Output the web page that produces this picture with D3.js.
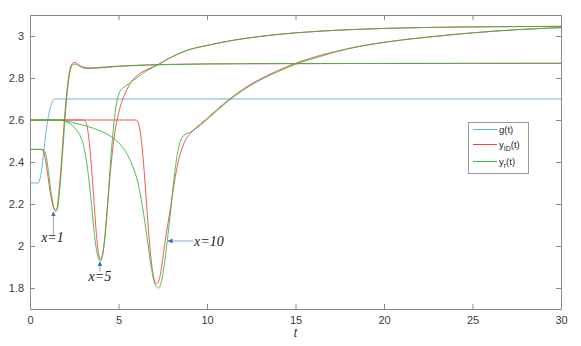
<!DOCTYPE html>
<html>
<head>
<meta charset="utf-8">
<script src="https://cdn.jsdelivr.net/npm/d3@7"></script>
<style>
  body { margin: 0; background: #fff; }
  svg { display: block; }
</style>
</head>
<body>
<svg id="chart"></svg>
<script>
// Data
const gT = [0, 0.45, 0.55, 0.65, 0.78, 0.9, 1.02, 1.15, 1.28, 1.4, 1.6, 30];
const gY = [2.3, 2.3, 2.315, 2.36, 2.45, 2.54, 2.61, 2.66, 2.69, 2.70, 2.70, 2.70];

// x=1
const id1T = [0, 0.6, 0.72, 0.85, 1.0, 1.15, 1.3, 1.42, 1.52, 1.65, 1.8, 1.95, 2.1, 2.25, 2.4, 2.55, 2.75, 3.0, 3.35, 3.8, 5, 8, 12, 30];
const id1Y = [2.46, 2.46, 2.455, 2.42, 2.34, 2.25, 2.19, 2.17, 2.18, 2.27, 2.43, 2.61, 2.75, 2.84, 2.87, 2.874, 2.863, 2.852, 2.848, 2.85, 2.857, 2.865, 2.868, 2.87];
const r1T = [0, 0.68, 0.8, 0.93, 1.08, 1.22, 1.36, 1.46, 1.56, 1.69, 1.84, 1.99, 2.14, 2.29, 2.44, 2.6, 2.8, 3.05, 3.4, 3.8, 5, 8, 12, 30];
const r1Y = [2.46, 2.46, 2.455, 2.42, 2.33, 2.24, 2.18, 2.165, 2.18, 2.28, 2.44, 2.62, 2.76, 2.84, 2.865, 2.866, 2.856, 2.847, 2.845, 2.847, 2.855, 2.864, 2.868, 2.87];

// x=5
const id5T = [0, 3.0, 3.15, 3.3, 3.45, 3.6, 3.75, 3.88, 3.98, 4.1, 4.25, 4.4, 4.55, 4.7, 4.85, 5.0, 5.2, 5.45, 5.75, 6.1, 6.6, 7.2, 8, 9, 10, 11.5, 13, 15, 18, 22, 26, 30];
const id5Y = [2.6, 2.6, 2.59, 2.53, 2.40, 2.23, 2.06, 1.96, 1.935, 1.96, 2.06, 2.21, 2.36, 2.48, 2.57, 2.63, 2.69, 2.74, 2.785, 2.815, 2.84, 2.862, 2.90, 2.935, 2.955, 2.98, 2.998, 3.015, 3.03, 3.04, 3.044, 3.046];
const r5T = [0, 1.7, 2.1, 2.5, 2.8, 3.05, 3.25, 3.45, 3.62, 3.78, 3.9, 4.0, 4.1, 4.25, 4.4, 4.55, 4.7, 4.85, 5.0, 5.15, 5.3, 5.45, 5.7, 6.1, 6.6, 7.2, 8, 9, 10, 11.5, 13, 15, 18, 22, 26, 30];
const r5Y = [2.6, 2.6, 2.59, 2.565, 2.53, 2.47, 2.37, 2.22, 2.07, 1.97, 1.935, 1.93, 1.955, 2.06, 2.22, 2.40, 2.55, 2.66, 2.72, 2.745, 2.755, 2.765, 2.78, 2.805, 2.835, 2.862, 2.90, 2.935, 2.955, 2.98, 2.998, 3.015, 3.03, 3.04, 3.044, 3.046];

// x=10
const id10T = [0, 6.0, 6.12, 6.25, 6.4, 6.55, 6.7, 6.85, 7.0, 7.15, 7.3, 7.45, 7.63, 7.8, 7.95, 8.15, 8.4, 8.7, 9.0, 9.4, 9.9, 10.5, 11.2, 12, 13, 14, 15, 16.5, 18, 20, 22.5, 25, 27.5, 30];
const id10Y = [2.6, 2.6, 2.585, 2.53, 2.41, 2.24, 2.07, 1.93, 1.845, 1.82, 1.84, 1.91, 2.02, 2.11, 2.19, 2.3, 2.41, 2.49, 2.53, 2.565, 2.60, 2.645, 2.695, 2.745, 2.795, 2.835, 2.87, 2.91, 2.94, 2.97, 2.995, 3.015, 3.03, 3.04];
const r10T = [0, 1.2, 2.0, 2.8, 3.6, 4.3, 4.9, 5.4, 5.8, 6.1, 6.35, 6.6, 6.85, 7.05, 7.25, 7.45, 7.6, 7.75, 7.95, 8.15, 8.35, 8.55, 8.75, 9.0, 9.4, 9.9, 10.5, 11.2, 12, 13, 14, 15, 16.5, 18, 20, 22.5, 25, 27.5, 30];
const r10Y = [2.6, 2.6, 2.595, 2.58, 2.56, 2.535, 2.50, 2.45, 2.38, 2.30, 2.19, 2.05, 1.90, 1.82, 1.80, 1.84, 1.92, 2.02, 2.17, 2.33, 2.45, 2.51, 2.53, 2.54, 2.56, 2.595, 2.64, 2.69, 2.74, 2.79, 2.83, 2.865, 2.905, 2.94, 2.97, 2.995, 3.015, 3.03, 3.04];

const xTicks = [0, 5, 10, 15, 20, 25, 30];
const yTicks = [1.8, 2, 2.2, 2.4, 2.6, 2.8, 3];

// annotation labels with arrow tip/tail in data units
const annLabels = ["x=1", "x=5", "x=10"];
const annTip = [[1.32, 2.162], [3.95, 1.925], [7.8, 2.024]];
const annTail = [[1.32, 2.05], [3.95, 1.878], [9.2, 2.024]];
const annText = [[1.27, 2.02], [3.95, 1.833], [9.27, 2.0]];

// Dimensions
const width = 581, height = 346;
const margin = {top: 15, right: 20, bottom: 37, left: 30};

const svg = d3.select("#chart")
    .attr("width", width)
    .attr("height", height)
    .style("background", "#fff");

const xScale = d3.scaleLinear().domain([0, 30]).range([margin.left, width - margin.right]);
const yScale = d3.scaleLinear().domain([1.7, 3.1]).range([height - margin.bottom, margin.top]);

const axisColor = "#8a8a8a";
const textColor = "#3a3a3a";

// axes, ticks inside on all four sides (box on)
const xAxis = svg.append("g")
    .attr("transform", `translate(0,${height - margin.bottom})`)
    .call(d3.axisBottom(xScale).tickValues(xTicks).tickSize(-5).tickSizeOuter(0).tickPadding(7));
const yAxis = svg.append("g")
    .attr("transform", `translate(${margin.left},0)`)
    .call(d3.axisLeft(yScale).tickValues(yTicks).tickSize(-5).tickSizeOuter(0).tickPadding(6)
        .tickFormat(d3.format("~g")));
const topAxis = svg.append("g")
    .attr("transform", `translate(0,${margin.top})`)
    .call(d3.axisTop(xScale).tickValues(xTicks).tickSize(-5).tickSizeOuter(0).tickFormat(""));
const rightAxis = svg.append("g")
    .attr("transform", `translate(${width - margin.right},0)`)
    .call(d3.axisRight(yScale).tickValues(yTicks).tickSize(-5).tickSizeOuter(0).tickFormat(""));

[xAxis, yAxis, topAxis, rightAxis].forEach(function(a) {
    a.select(".domain").attr("stroke", axisColor);
    a.selectAll(".tick line").attr("stroke", axisColor);
    a.selectAll("text")
        .attr("fill", textColor)
        .style("font-family", "'Liberation Sans', Arial, sans-serif")
        .style("font-size", "11px");
});

// x-axis label
svg.append("text")
    .attr("x", (xScale(0) + xScale(30)) / 2)
    .attr("y", 337)
    .attr("text-anchor", "middle")
    .attr("fill", textColor)
    .style("font-family", "'Liberation Sans', Arial, sans-serif")
    .style("font-style", "italic")
    .style("font-size", "12px")
    .text("t");

// lines
const line = d3.line()
    .x(d => xScale(d[0]))
    .y(d => yScale(d[1]))
    .curve(d3.curveMonotoneX);

const zip = (ts, ys) => ts.map((t, i) => [t, ys[i]]);

const blue = "#5aaedf", red = "#f04545", green = "#3fb33f";

const series = [
    {pts: zip(gT, gY), color: blue},
    {pts: zip(id1T, id1Y), color: red},
    {pts: zip(id5T, id5Y), color: red},
    {pts: zip(id10T, id10Y), color: red},
    {pts: zip(r1T, r1Y), color: green},
    {pts: zip(r5T, r5Y), color: green},
    {pts: zip(r10T, r10Y), color: green}
];

svg.append("g")
    .selectAll("path")
    .data(series)
    .enter().append("path")
    .attr("d", d => line(d.pts))
    .attr("fill", "none")
    .attr("stroke", d => d.color)
    .attr("stroke-width", 0.9);

// annotations
svg.append("defs").append("marker")
    .attr("id", "head")
    .attr("viewBox", "0 0 10 10")
    .attr("refX", 9).attr("refY", 5)
    .attr("markerWidth", 5).attr("markerHeight", 5)
    .attr("markerUnits", "userSpaceOnUse")
    .attr("orient", "auto")
    .append("path")
    .attr("d", "M0,0L10,5L0,10Z")
    .attr("fill", "#3d6fbf");

const ann = svg.append("g");
annLabels.forEach(function(lab, i) {
    ann.append("line")
        .attr("x1", xScale(annTail[i][0])).attr("y1", yScale(annTail[i][1]))
        .attr("x2", xScale(annTip[i][0])).attr("y2", yScale(annTip[i][1]))
        .attr("stroke", "#87a7d6")
        .attr("stroke-width", 1)
        .attr("marker-end", "url(#head)");
    ann.append("text")
        .attr("x", xScale(annText[i][0]))
        .attr("y", yScale(annText[i][1]))
        .attr("text-anchor", i === 2 ? "start" : "middle")
        .attr("fill", "#222")
        .style("font-family", "'Liberation Serif', 'Times New Roman', serif")
        .style("font-style", "italic")
        .style("font-size", "14px")
        .text(lab);
});

// legend
const legend = svg.append("g");
legend.append("rect")
    .attr("x", 468.5).attr("y", 122.5)
    .attr("width", 60).attr("height", 51)
    .attr("fill", "#fff")
    .attr("stroke", "#9a9a9a");

const legItems = [
    {color: blue, main: "g", sub: "", rest: "(t)"},
    {color: red, main: "y", sub: "ID", rest: "(t)"},
    {color: green, main: "y", sub: "r", rest: "(t)"}
];
const legRows = [129.5, 144.5, 161.5];

legItems.forEach(function(d, i) {
    legend.append("line")
        .attr("x1", 473).attr("x2", 497)
        .attr("y1", legRows[i]).attr("y2", legRows[i])
        .attr("stroke", d.color);
    const t = legend.append("text")
        .attr("x", 499)
        .attr("y", legRows[i] + 3.5)
        .attr("fill", "#222")
        .style("font-family", "'Liberation Sans', Arial, sans-serif")
        .style("font-size", "9.5px");
    t.append("tspan").text(d.main);
    if (d.sub) {
        t.append("tspan").attr("dy", 3).style("font-size", "7px").text(d.sub);
        t.append("tspan").attr("dy", -3).text(d.rest);
    } else {
        t.append("tspan").text(d.rest);
    }
});
</script>
</body>
</html>
